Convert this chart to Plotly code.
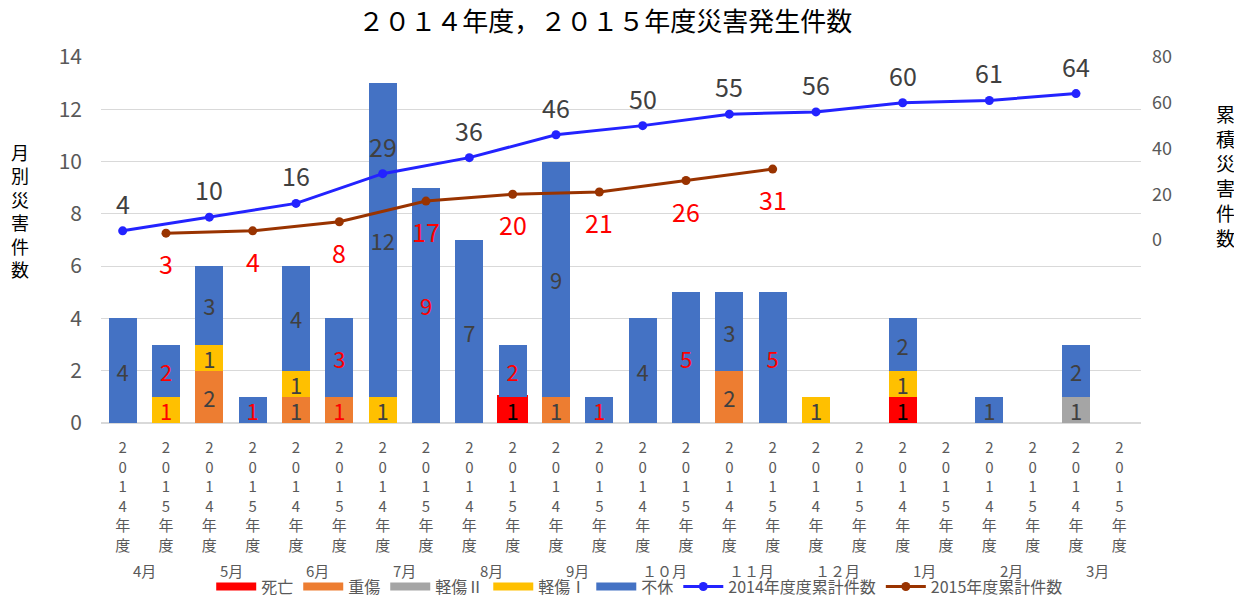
import plotly.graph_objects as go

# ---- data ----
months = ["4月", "5月", "6月", "7月", "8月", "9月", "１０月", "１１月", "１２月", "1月", "2月", "3月"]
years = ["2014", "2015"]
categories = [f"{m}-{y}" for m in months for y in years]
year_of_cat = [y for m in months for y in years]
tick_labels = ["<br>".join(list(y) + ["年", "度"]) for y in year_of_cat]

shibou = [0, 0, 0, 0, 0, 0, 0, 0, 0, 1, 0, 0, 0, 0, 0, 0, 0, 0, 1, 0, 0, 0, 0, 0]
juusho = [0, 0, 2, 0, 1, 1, 0, 0, 0, 0, 1, 0, 0, 0, 2, 0, 0, 0, 0, 0, 0, 0, 0, 0]
keisho2 = [0, 0, 0, 0, 0, 0, 0, 0, 0, 0, 0, 0, 0, 0, 0, 0, 0, 0, 0, 0, 0, 0, 1, 0]
keisho1 = [0, 1, 1, 0, 1, 0, 1, 0, 0, 0, 0, 0, 0, 0, 0, 0, 1, 0, 1, 0, 0, 0, 0, 0]
fukyu = [4, 2, 3, 1, 4, 3, 12, 9, 7, 2, 9, 1, 4, 5, 3, 5, 0, 0, 2, 0, 1, 0, 2, 0]

cum2014 = [4, 10, 16, 29, 36, 46, 50, 55, 56, 60, 61, 64]
cum2015 = [3, 4, 8, 17, 20, 21, 26, 31]

x2014 = [c for c, y in zip(categories, year_of_cat) if y == "2014"]
x2015 = [c for c, y in zip(categories, year_of_cat) if y == "2015"][:len(cum2015)]

FONT = "Noto Sans CJK JP, Noto Sans, sans-serif"
GRAY = "#595959"
DARK = "#404040"
BLUE_LINE = "#2323FF"
BROWN_LINE = "#993300"

year_color = {"2014": DARK, "2015": "#FF0000"}

series = [
    ("死亡", shibou, "#FF0000"),
    ("重傷", juusho, "#ED7D31"),
    ("軽傷Ⅱ", keisho2, "#A5A5A5"),
    ("軽傷Ⅰ", keisho1, "#FFC000"),
    ("不休", fukyu, "#4472C4"),
]

fig = go.Figure()
for name, vals, col in series:
    if name == "死亡":
        tcol = ["#000000"] * len(vals)
        lw = [3 if (v and y == "2015") else 0 for v, y in zip(vals, year_of_cat)]
    else:
        tcol = [year_color[y] for y in year_of_cat]
        lw = [0] * len(vals)
    fig.add_trace(go.Bar(
        name=name, x=categories, y=vals, showlegend=False,
        marker=dict(color=col, line=dict(color=col, width=lw)),
        text=[str(v) if v else "" for v in vals],
        textposition="inside", insidetextanchor="middle",
        constraintext="none", textangle=0,
        textfont=dict(size=22, color=tcol, family=FONT),
        hoverinfo="skip",
    ))

fig.add_trace(go.Scatter(
    name="2014年度度累計件数", x=x2014, y=cum2014, yaxis="y2",
    mode="lines+markers", showlegend=False,
    line=dict(color=BLUE_LINE, width=3), marker=dict(size=9, color=BLUE_LINE),
    cliponaxis=False,
))
fig.add_trace(go.Scatter(
    name="2015年度累計件数", x=x2015, y=cum2015, yaxis="y2",
    mode="lines+markers", showlegend=False,
    line=dict(color=BROWN_LINE, width=3), marker=dict(size=9, color=BROWN_LINE),
    cliponaxis=False,
))

# legend-only entries (wide swatches like the reference)
for name, vals, col in series:
    fig.add_trace(go.Scatter(name=name, x=[None], y=[None], mode="lines",
                             line=dict(color=col, width=8), hoverinfo="skip"))
fig.add_trace(go.Scatter(name="2014年度度累計件数", x=[None], y=[None], mode="lines+markers",
                         line=dict(color=BLUE_LINE, width=3), marker=dict(size=9, color=BLUE_LINE)))
fig.add_trace(go.Scatter(name="2015年度累計件数", x=[None], y=[None], mode="lines+markers",
                         line=dict(color=BROWN_LINE, width=3), marker=dict(size=9, color=BROWN_LINE)))

annotations = []
for xv, yv in zip(x2014, cum2014):
    annotations.append(dict(x=xv, y=yv, xref="x", yref="y2", text=str(yv), showarrow=False,
                            yshift=28, font=dict(size=25, color=DARK, family=FONT)))
for xv, yv in zip(x2015, cum2015):
    annotations.append(dict(x=xv, y=yv, xref="x", yref="y2", text=str(yv), showarrow=False,
                            yshift=-30, font=dict(size=25, color="#FF0000", family=FONT)))
for i, m in enumerate(months):
    annotations.append(dict(
        x=2 * i + 0.5, xref="x", y=-0.402, yref="paper", text=m, showarrow=False,
        font=dict(size=15, color=GRAY, family=FONT), xanchor="center", yanchor="middle",
    ))
annotations.append(dict(
    x=-0.078, xref="paper", y=0.58, yref="paper",
    text="<br>".join(list("月別災害件数")), showarrow=False,
    font=dict(size=18, color="#000000", family=FONT), align="center",
    xanchor="center", yanchor="middle",
))
annotations.append(dict(
    x=1.081, xref="paper", y=0.675, yref="paper",
    text="<br>".join(list("累積災害件数")), showarrow=False,
    font=dict(size=19, color="#000000", family=FONT), align="center",
    xanchor="center", yanchor="middle",
))

fig.update_layout(
    width=1234, height=588,
    margin=dict(l=93, r=101, t=49, b=173, autoexpand=False),
    paper_bgcolor="white", plot_bgcolor="white",
    barmode="stack", bargap=0.35,
    title=dict(text="２０１４年度，２０１５年度災害発生件数", x=0.484, xanchor="center",
               y=0.976, yanchor="middle",
               font=dict(size=26, color="#000000", family=FONT)),
    font=dict(family=FONT, color=GRAY),
    xaxis=dict(type="category", categoryorder="array", categoryarray=categories,
               range=[-0.5, len(categories) - 0.5],
               tickmode="array", tickvals=categories, ticktext=tick_labels,
               tickfont=dict(size=15, color=GRAY, family=FONT), tickangle=0,
               ticklabelstandoff=14,
               showgrid=False, showline=False, zeroline=False, ticks="", automargin=False),
    yaxis=dict(range=[0, 14], tickvals=list(range(0, 15, 2)),
               tickfont=dict(size=21, color=GRAY, family=FONT),
               gridcolor="#D9D9D9", gridwidth=1, zeroline=True, zerolinecolor="#D9D9D9",
               showline=False, ticklabelstandoff=18, automargin=False),
    yaxis2=dict(range=[-80, 80], tickvals=[0, 20, 40, 60, 80], overlaying="y", side="right",
                tickfont=dict(size=18, color=GRAY, family=FONT),
                showgrid=False, zeroline=False, showline=False, ticklabelstandoff=10,
                automargin=False),
    legend=dict(orientation="h", x=0.518, xanchor="center", y=-0.447, yanchor="middle",
                traceorder="normal", font=dict(size=16, color=GRAY, family=FONT),
                itemwidth=40, tracegroupgap=0, bgcolor="rgba(0,0,0,0)"),
    annotations=annotations,
    showlegend=True,
)

fig.write_html("out.html")
